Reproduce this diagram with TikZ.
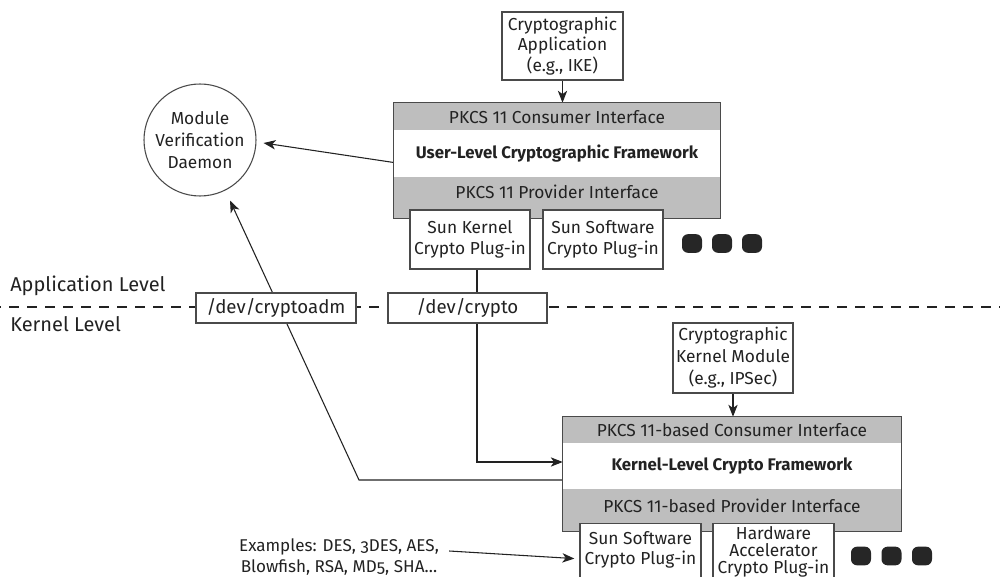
\documentclass[tikz,border=0pt]{standalone}
\usepackage{fontspec}
\setmainfont{Fira Sans}
\newfontfamily\exfont[Numbers=OldStyle]{Fira Sans}
\usetikzlibrary{arrows.meta,calc,backgrounds}
\definecolor{bandc}{HTML}{BEBEBE}
\definecolor{edgec}{HTML}{4A4A4A}
\definecolor{inkc}{HTML}{222222}
\definecolor{dotc}{HTML}{262626}
\begin{document}
\begin{tikzpicture}[x=0.75pt,y=-0.75pt,
  txt/.style={font=\fontsize{13}{15.5}\selectfont, text=inkc, align=center, inner sep=0pt},
  box/.style={txt, draw=edgec, fill=white, line width=0.9pt},
  band/.style={fill=bandc, draw=none, inner sep=0pt},
  whiteband/.style={fill=white, draw=none, inner sep=0pt},
  arr/.style={draw=inkc, line width=0.8pt, -{Stealth[length=9pt,width=7pt,inset=2.5pt]}},
  ln/.style={draw=inkc, line width=0.8pt},
  dotbox/.style={fill=dotc, rounded corners=4.5pt, minimum width=15pt, minimum height=14pt, inner sep=0pt},
  lvl/.style={font=\fontsize{15}{18}\selectfont, text=inkc, inner sep=0pt, anchor=base west},
  titlef/.style={font=\fontsize{12.6}{15.5}\selectfont\bfseries},
]
\useasboundingbox (0,0) rectangle (1000,577);

% level labels
\node[lvl] (applvl) at (10,292) {Application Level};
\node[lvl] (kerlvl) at (10,332) {Kernel Level};

% cryptographic application
\node[box, minimum width=90.75pt, minimum height=51pt] (cap) at (562.5,46) {Cryptographic\\Application\\(e.g., IKE)};

% user-level framework
\node[band, minimum width=244.5pt, minimum height=86.25pt] (ufw) at (557,160.5) {};
\node[whiteband, minimum width=244.5pt, minimum height=35.25pt] (ufm) at (557,153.5) {};
\draw[edgec, line width=0.9pt] (ufw.north west) rectangle (ufw.south east);
\node[txt] (ufc) at (557,117) {PKCS 11 Consumer Interface};
\node[txt, titlef] (uft) at (ufm) {User-Level Cryptographic Framework};
\node[txt] (ufp) at (557,192) {PKCS 11 Provider Interface};

% user plug-ins
\node[box, minimum width=90pt, minimum height=44.25pt] (skp) at (470,239.5) {Sun Kernel\\Crypto Plug-in};
\node[box, minimum width=90pt, minimum height=44.25pt] (ssp) at (603,239.5) {Sun Software\\Crypto Plug-in};
\node[dotbox] (ud1) at (692,243.5) {};
\node[dotbox] (ud2) at (722,243.5) {};
\node[dotbox] (ud3) at (752,243.5) {};

% daemon
\node[circle, draw=edgec, line width=0.8pt, txt, font=\fontsize{13}{16.5}\selectfont, minimum size=84pt] (mvd) at (200,140) {Module\\Verification\\Daemon};

% device boxes
\node[box, font=\fontsize{14}{16}\selectfont, minimum width=120pt, minimum height=22.5pt] (cadm) at (276,308) {/dev/cryptoadm};
\node[box, font=\fontsize{14}{16}\selectfont, minimum width=119.25pt, minimum height=22.5pt] (cdev) at (467.5,308) {/dev/crypto};

% kernel module
\node[box, font=\fontsize{13}{16.5}\selectfont, minimum width=90pt, minimum height=52.5pt] (ckm) at (733,358) {Cryptographic\\Kernel Module\\(e.g., IPSec)};

% kernel-level framework
\node[band, minimum width=253.5pt, minimum height=85.5pt] (kfw) at (732,474) {};
\node[whiteband, minimum width=253.5pt, minimum height=34.5pt] (kfm) at (732,466) {};
\draw[edgec, line width=0.9pt] (kfw.north west) rectangle (kfw.south east);
\node[txt] (kfc) at (732,430) {PKCS 11-based Consumer Interface};
\node[txt, titlef] (kft) at (kfm) {Kernel-Level Crypto Framework};
\node[txt] (kfp) at (732,506) {PKCS 11-based Provider Interface};

% kernel plug-ins
\node[box, minimum width=90.75pt, minimum height=52.5pt, anchor=north] (kssp) at (640.5,523) {};
\node[txt, font=\fontsize{13}{15}\selectfont] (kssptxt) at (640.5,550) {Sun Software\\Crypto Plug-in};
\node[box, minimum width=90.75pt, minimum height=52.5pt, anchor=north] (hwp) at (773.5,523) {};
\node[txt, font=\fontsize{13}{12.75}\selectfont] (hwptxt) at (773.5,552) {Hardware\\Accelerator\\Crypto Plug-in};
\node[dotbox] (kd1) at (861,556) {};
\node[dotbox] (kd2) at (891.5,556) {};
\node[dotbox] (kd3) at (922,556) {};

% examples
\node[txt, font=\fontsize{12.8}{15.75}\exfont] (ex) at (339,557) {Examples: DES, 3DES, AES,\\Blowfish, RSA, MD5, SHA…};

% helper coordinates
\coordinate (vx) at (477,0);
\coordinate (kin) at ($(kfw.west)+(0,-12)$);
\coordinate (kout) at ($(kfw.west)+(0,6)$);
\coordinate (bend) at (359,480);

\begin{scope}[on background layer]
  \draw[inkc, line width=2.2pt, dash pattern=on 7.5pt off 6pt, dash phase=-7pt] (0,307) -- (1000,307);
  \draw[arr] (cap.south) -- (cap.south |- ufw.north);
  \draw[arr] ($(ufw.west)+(0,2)$) -- ($(mvd.east)+(7,3)$);
  \draw[arr] (kout) -- (bend |- kout) -- ($(mvd.south)+(30,4)$);
  \draw[ln] (vx |- skp.south) -- (vx |- cdev.north);
  \draw[arr] (vx |- cdev.south) -- (vx |- kin) -- (kin);
  \draw[arr] (ckm.south) -- (ckm.south |- kfw.north);
  \draw[arr] ($(ex.east)+(10,-6)$) -- ($(kssp.west)+(-5,0)$);
\end{scope}
\end{tikzpicture}
\end{document}
